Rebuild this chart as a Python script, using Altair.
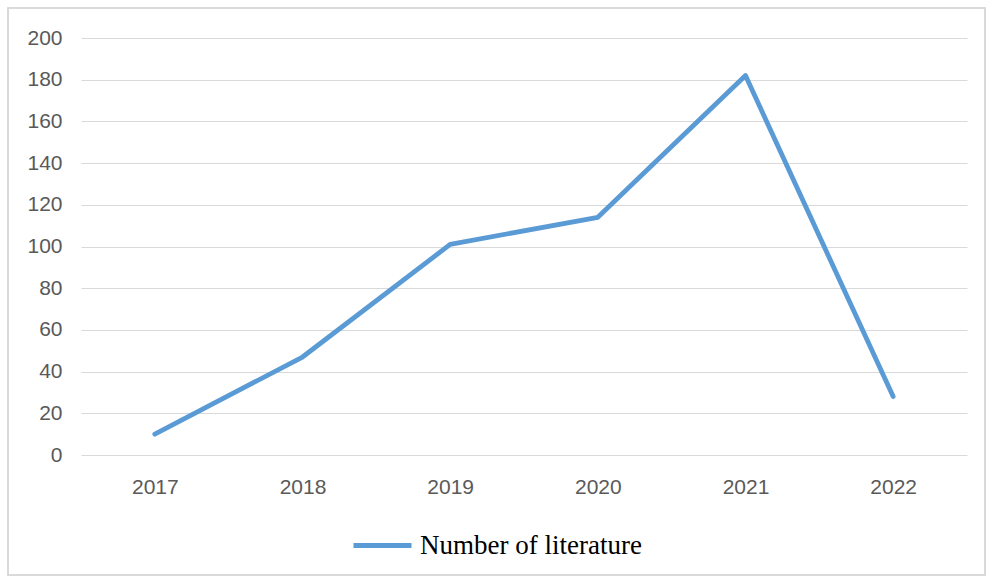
import altair as alt
import pandas as pd

years = ["2017", "2018", "2019", "2020", "2021", "2022"]
counts = [10, 47, 101, 114, 182, 28]
series = ["Number of literature"] * len(years)

df = pd.DataFrame({"year": years, "count": counts, "series": series})

W, H = 886, 417
PL, PT = 81, 38

line = alt.Chart(df).mark_line(strokeWidth=4.8, strokeCap="round", strokeJoin="round").encode(
    x=alt.X("year:N", sort=years, title=None,
            scale=alt.Scale(paddingOuter=0.5, paddingInner=0),
            axis=alt.Axis(labelAngle=0, ticks=False, domain=False, grid=False,
                          labelPadding=21, labelFontSize=21, labelColor="#595959",
                          labelFont="Liberation Sans")),
    y=alt.Y("count:Q", title=None,
            scale=alt.Scale(domain=[0, 200], nice=False),
            axis=alt.Axis(values=list(range(0, 201, 20)), ticks=False, domain=False,
                          gridColor="#D9D9D9", gridWidth=1.2, labelPadding=19,
                          labelFontSize=21, labelColor="#595959",
                          labelFont="Liberation Sans")),
    color=alt.Color("series:N", scale=alt.Scale(range=["#5B9BD5"]), title=None,
                    legend=alt.Legend(orient="none", legendX=270, legendY=476,
                                      symbolType="stroke", symbolStrokeWidth=4.8,
                                      symbolSize=3364, labelFont="Liberation Serif",
                                      labelFontSize=27, labelColor="#000000",
                                      labelLimit=400, labelOffset=6)),
)

border = alt.Chart(df).mark_rect(fill=None, stroke="#D9D9D9", strokeWidth=1.2, clip=False).encode(
    x=alt.value(8 - PL), x2=alt.value(985 - PL), y=alt.value(8 - PT), y2=alt.value(575 - PT)
)

chart = alt.layer(border, line).properties(
    width=W, height=H,
    padding={"left": PL, "top": PT, "right": 989 - PL - W, "bottom": 578 - PT - H},
    autosize=alt.AutoSizeParams(type="none"),
    background="white",
).configure_view(stroke=None)

chart.save("out.html", embed_options={"renderer": "svg", "actions": False})
